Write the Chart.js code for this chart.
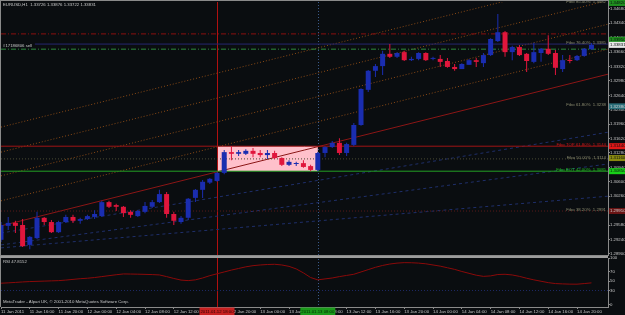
<!DOCTYPE html>
<html>
<head>
<meta charset="utf-8">
<script src="https://cdn.jsdelivr.net/npm/chart.js@4.4.0/dist/chart.umd.min.js"></script>
<style>
  html, body { margin: 0; padding: 0; background: #0a0d10; }
  #wrap { position: relative; width: 625px; height: 315px; overflow: hidden; background: #0a0d10; }
  #main { position: absolute; left: 0; top: 0; }
  #rsi { position: absolute; left: 0; top: 256px; }
</style>
</head>
<body>
<div id="wrap">
  <canvas id="main" width="625" height="256"></canvas>
  <canvas id="rsi" width="625" height="59"></canvas>
</div>
<script>
// EURUSD H1, 11 Jan 12:00 .. 14 Jan 22:00 (one entry per hourly bar)
const opens = [1.2923,1.2956,1.2963,1.2958,1.2911,1.2927,1.2975,1.2965,1.2941,1.2965,
  1.2977,1.2968,1.2972,1.2977,1.2979,1.3012,1.3005,1.3001,1.2989,1.2979,
  1.2989,1.3001,1.3012,1.3031,1.2984,1.2965,1.2975,1.3022,1.3041,1.3058,
  1.3062,1.3081,1.3130,1.3126,1.3126,1.3133,1.3128,1.3123,1.3128,1.3116,
  1.3100,1.3102,1.3104,1.3097,1.3088,1.3128,1.3142,1.3152,1.3128,1.3147,
  1.3194,1.3277,1.3322,1.3333,1.3362,1.3355,1.3366,1.3347,1.3350,1.3364,
  1.3350,1.3350,1.3345,1.3331,1.3326,1.3336,1.3347,1.3340,1.3359,1.3392,
  1.3413,1.3366,1.3378,1.3362,1.3343,1.3364,1.3374,1.3364,1.3326,1.3347,
  1.3347,1.3357,1.33726];
const highs = [1.2965,1.2977,1.2968,1.2972,1.2932,1.2989,1.2977,1.2970,1.2968,1.2982,
  1.2982,1.2975,1.2982,1.2993,1.3015,1.3015,1.3008,1.3003,1.2993,1.2993,
  1.3012,1.3017,1.3041,1.3036,1.2989,1.2979,1.3022,1.3043,1.3064,1.3069,
  1.3083,1.3135,1.3144,1.3135,1.3137,1.3140,1.3135,1.3135,1.3133,1.3118,
  1.3111,1.3107,1.3111,1.3100,1.3130,1.3144,1.3156,1.3163,1.3152,1.3199,
  1.3281,1.3324,1.3338,1.3369,1.3385,1.3366,1.3369,1.3355,1.3366,1.3366,
  1.3355,1.3359,1.3352,1.3338,1.3340,1.3350,1.3352,1.3364,1.3399,1.3456,
  1.3416,1.3381,1.3383,1.3364,1.3388,1.3376,1.3406,1.3371,1.3359,1.3359,
  1.3359,1.3376,1.33876];
const lows = [1.2918,1.2946,1.2939,1.2906,1.2901,1.2925,1.2958,1.2939,1.2939,1.2963,
  1.2963,1.2961,1.2970,1.2972,1.2977,1.2998,1.2991,1.2977,1.2975,1.2977,
  1.2986,1.2998,1.3010,1.2975,1.2958,1.2961,1.2970,1.3012,1.3022,1.3055,
  1.3060,1.3078,1.3111,1.3121,1.3123,1.3118,1.3118,1.3114,1.3114,1.3097,
  1.3097,1.3097,1.3093,1.3085,1.3085,1.3118,1.3140,1.3123,1.3121,1.3144,
  1.3192,1.3272,1.3307,1.3312,1.3352,1.3352,1.3345,1.3345,1.3347,1.3345,
  1.3347,1.3331,1.3329,1.3322,1.3326,1.3336,1.3331,1.3331,1.3357,1.3390,
  1.3355,1.3347,1.3357,1.3319,1.3340,1.3343,1.3359,1.3312,1.3319,1.3340,
  1.3345,1.3355,1.33722];
const closes = [1.2958,1.2963,1.2956,1.2908,1.2930,1.2975,1.2965,1.2941,1.2965,1.2977,
  1.2968,1.2972,1.2979,1.2984,1.3012,1.3001,1.3001,1.2986,1.2982,1.2991,
  1.3003,1.3012,1.3031,1.2984,1.2968,1.2975,1.3020,1.3041,1.3060,1.3067,
  1.3081,1.3130,1.3126,1.3130,1.3133,1.3126,1.3123,1.3128,1.3116,1.3100,
  1.3107,1.3104,1.3095,1.3088,1.3128,1.3142,1.3152,1.3128,1.3149,1.3194,
  1.3279,1.3322,1.3333,1.3362,1.3355,1.3364,1.3347,1.3350,1.3364,1.3347,
  1.3352,1.3343,1.3331,1.3326,1.3338,1.3347,1.3343,1.3359,1.3397,1.3413,
  1.3366,1.3378,1.3359,1.3345,1.3366,1.3374,1.3362,1.3329,1.3347,1.3345,
  1.3357,1.3374,1.33831];
const rsiValues = [45.8,46.5,47.5,48.5,49.3,49.8,50.3,50.8,51.3,52.5,
  54,55.5,56.5,58,60,62,64,65.7,65.5,65.2,
  64.8,64.3,63.6,60,56,52.5,51.4,53,57,62,
  66,70,74,77.5,81,83.5,85,86,86.5,85,
  82,76.5,68,58,53,55,57,60,62.5,65,
  70,75,80,84,87,89,90,89.8,89,87.5,
  85,82.5,79,75.5,71,67,63,60.5,61.5,64.5,
  65,63.5,60.5,56.5,53,50,47,45,44.3,43.8,
  43.7,45,46.5];

const priceTicks = [1.3468,1.3434,1.3400,1.3366,1.3332,1.3298,1.3264,1.3230,1.3196,
  1.3162,1.3128,1.3094,1.3060,1.3026,1.2992,1.2958,1.2924,1.2890];
const rsiTicks = [0, 30, 50, 70, 100];
const timeTickBars = [0,4,8,12,16,20,24,28,32,36,40,44,48,52,56,60,64,68,72,76,80];
const timeTickLabels = ['11 Jan 2011','11 Jan 16:00','11 Jan 20:00','12 Jan 00:00','12 Jan 04:00',
  '12 Jan 08:00','12 Jan 12:00','12 Jan 16:00','12 Jan 20:00','13 Jan 00:00','13 Jan 04:00',
  '13 Jan 08:00','13 Jan 12:00','13 Jan 16:00','13 Jan 20:00','14 Jan 00:00','14 Jan 04:00',
  '14 Jan 08:00','14 Jan 12:00','14 Jan 16:00','14 Jan 20:00'];

// horizontal objects
const hLevels = [1.3409, 1.3373, 1.3144, 1.3114, 1.3085, 1.2991];
const orderPrice = 1.3385;
const orderStartBar = 4.7;
// channel (parallel) and fan lines: price at bar 0 and at right edge
const channelStart = [1.3189, 1.3130, 1.3074, 1.3015, 1.2956];
const channelEnd   = [1.3547, 1.3488, 1.3432, 1.3373, 1.3314];
const fanStart = [1.2939, 1.2911, 1.2904];
const fanEnd   = [1.3177, 1.3102, 1.3026];
// rectangle and vertical markers
const zoneBars = [30, 44];
const zonePrices = [1.3085, 1.3144];
const markerBars = [30, 44];
const markerLabels = ['2011.01.12 18:00', '2011.01.13 08:00'];
// fibo descriptions
const fiboPrices = [1.3482, 1.3385, 1.3238, 1.3144, 1.3114, 1.3085, 1.2991];
const fiboTexts = ['Fibo 85.40%  1.3482', 'Fibo 76.40%  1.3385', 'Fibo 61.80%  1.3238',
  'Fibo TOP 61.80%  1.3144', 'Fibo 50.00%  1.3114', 'Fibo BOT 42.00%  1.3085', 'Fibo 38.20%  1.2991'];
// price tags on the axis
const tagPrices = [1.3482, 1.3395, 1.33831, 1.3238, 1.3144, 1.3116, 1.3085, 1.2991];

const X_MAX = 84.3;
const FONT_FAMILY = 'Liberation Sans';
const FONT_SIZE = 4.3;
const FONT = FONT_SIZE + 'px "' + FONT_FAMILY + '"';
const TEXT = '#c8c8c8';
const FRAME = '#8a8a8a';
const BULL = '#1a2db0';
const BEAR = '#e0163c';

const idx = opens.map((_, i) => i);
const candleColors = idx.map(i => closes[i] >= opens[i] ? BULL : BEAR);

function segment(y0, y1, x0) {
  return [{x: x0 === undefined ? 0 : x0, y: y0}, {x: X_MAX, y: y1}];
}
function lineSet(data, color, dash, order) {
  return { type: 'line', data: data, borderColor: color, borderWidth: 1, borderDash: dash,
    pointRadius: 0, fill: false, tension: 0, order: order || 10 };
}

const hStyles = [
  ['#8b1010', [5, 2, 1, 2]],
  ['#2e8b3e', [5, 2, 1, 2]],
  ['#a01414', []],
  ['#4a4a34', [1, 2]],
  ['#24a024', []],
  ['#5a1a1a', [1, 2]]
];
const orangeStyle = ['#8a4a16', [1, 2]];

const mainSets = [];
channelStart.forEach((p, i) => {
  const last = i === channelStart.length - 1;
  mainSets.push(lineSet(segment(p, channelEnd[i]), last ? '#8b1616' : orangeStyle[0], last ? [] : orangeStyle[1], 12));
});
fanStart.forEach((p, i) => {
  mainSets.push(lineSet(segment(p, fanEnd[i]), '#1f2f6a', [3, 3], 12));
});
hLevels.forEach((p, i) => {
  mainSets.push(lineSet(segment(p, p), hStyles[i][0], hStyles[i][1], 11));
});
mainSets.push(lineSet(segment(orderPrice, orderPrice, orderStartBar), '#26266e', [], 11));

mainSets.push({
  type: 'bar', data: idx.map(i => ({x: i, y: [lows[i], highs[i]]})),
  backgroundColor: candleColors, grouped: false, maxBarThickness: 1,
  inflateAmount: 0, borderWidth: 0, minBarLength: 1, order: 2
});
mainSets.push({
  type: 'bar', data: idx.map(i => ({x: i, y: [opens[i], closes[i]]})),
  backgroundColor: candleColors, grouped: false, maxBarThickness: 5,
  inflateAmount: 0, borderWidth: 0, minBarLength: 1, order: 1
});

function drawMarkers(ctx, x, top, bottom) {
  ctx.save();
  ctx.lineWidth = 1;
  let px = Math.round(x.getPixelForValue(markerBars[0])) + 0.5;
  ctx.strokeStyle = '#b01010';
  ctx.beginPath(); ctx.moveTo(px, top); ctx.lineTo(px, bottom); ctx.stroke();
  px = Math.round(x.getPixelForValue(markerBars[1])) + 0.5;
  ctx.strokeStyle = '#3a5a8a';
  ctx.setLineDash([1, 2]);
  ctx.beginPath(); ctx.moveTo(px, top); ctx.lineTo(px, bottom); ctx.stroke();
  ctx.restore();
}

const mainOverlay = {
  id: 'mainOverlay',
  beforeDatasetsDraw(chart) {
    const {ctx, chartArea: a, scales: {x, y}} = chart;
    const x0 = x.getPixelForValue(zoneBars[0]);
    const x1 = x.getPixelForValue(zoneBars[1]);
    const yTop = y.getPixelForValue(zonePrices[1]);
    const yBot = y.getPixelForValue(zonePrices[0]);
    ctx.save();
    ctx.fillStyle = '#ffc0cb';
    ctx.fillRect(x0, yTop, x1 - x0, yBot - yTop);
    ctx.restore();
    drawMarkers(ctx, x, a.top, a.bottom);
  },
  afterDatasetsDraw(chart) {
    const {ctx, scales: {y}} = chart;
    ctx.save();
    ctx.font = FONT;
    ctx.textBaseline = 'middle';
    ctx.textAlign = 'right';
    const fiboColors = ['#8c8c70', '#8c8c70', '#8c8c70', '#d01818', '#8c8c70', '#22c022', '#8c8c70'];
    fiboPrices.forEach((p, i) => {
      ctx.fillStyle = fiboColors[i];
      ctx.fillText(fiboTexts[i], 606, y.getPixelForValue(p) - 1.5);
    });
    ctx.textAlign = 'left';
    ctx.fillStyle = TEXT;
    ctx.fillText('EURUSD,H1  1.33726 1.33876 1.33722 1.33831', 3, 5);
    ctx.fillText('#17186806 sell', 3, y.getPixelForValue(orderPrice) + 1.5);
    ctx.restore();
  },
  afterDraw(chart) {
    const {ctx, chartArea: a, scales: {y}} = chart;
    ctx.save();
    const fills = ['#1f8f1f', '#1f8f1f', '#e8e8e8', '#2a6f7a', '#e01818', '#8a8a10', '#18d018', '#6a1414'];
    const inks  = ['#0a0d10', '#0a0d10', '#0a0d10', '#d0d0d0', '#0a0d10', '#0a0d10', '#0a0d10', '#d0d0d0'];
    ctx.font = FONT;
    ctx.textBaseline = 'middle';
    ctx.textAlign = 'left';
    tagPrices.forEach((p, i) => {
      const py = y.getPixelForValue(p);
      ctx.fillStyle = fills[i];
      ctx.fillRect(a.right + 1, py - 3, 17, 6);
      ctx.fillStyle = inks[i];
      ctx.fillText(p.toFixed(5), a.right + 2, py);
    });
    ctx.strokeStyle = FRAME;
    ctx.lineWidth = 1;
    ctx.strokeRect(0.5, 0.5, a.right, a.bottom);
    ctx.restore();
  }
};

const rsiOverlay = {
  id: 'rsiOverlay',
  beforeDatasetsDraw(chart) {
    const {ctx, chartArea: a, scales: {x}} = chart;
    drawMarkers(ctx, x, 0, a.bottom);
  },
  afterDraw(chart) {
    const {ctx, chartArea: a, scales: {x}} = chart;
    ctx.save();
    ctx.fillStyle = '#9c9c9c';
    ctx.fillRect(0, 0, a.right, 2);
    ctx.strokeStyle = FRAME;
    ctx.lineWidth = 1;
    ctx.beginPath(); ctx.moveTo(0.5, 2); ctx.lineTo(0.5, a.bottom); ctx.stroke();
    ctx.font = FONT;
    ctx.textBaseline = 'middle';
    ctx.textAlign = 'left';
    ctx.fillStyle = TEXT;
    ctx.fillText('RSI 47.8152', 3, 6);
    ctx.fillText('MetaTrader - Alpari UK, \u00a9 2001-2010 MetaQuotes Software Corp.', 3, 46);
    const boxFills = ['#c82020', '#1a9a1a'];
    const boxInks = ['#2a0000', '#002a00'];
    ctx.textAlign = 'center';
    markerBars.forEach((b, i) => {
      const cx = x.getPixelForValue(b);
      ctx.fillStyle = boxFills[i];
      ctx.fillRect(cx - 17.5, a.bottom + 0.5, 35, 8);
      ctx.fillStyle = boxInks[i];
      ctx.fillText(markerLabels[i], cx, a.bottom + 4.5);
    });
    ctx.restore();
  }
};

const tickFont = {family: FONT_FAMILY, size: FONT_SIZE, lineHeight: 1};

new Chart(document.getElementById('main'), {
  type: 'bar',
  data: { datasets: mainSets },
  options: {
    responsive: false,
    animation: false,
    events: [],
    layout: { padding: {left: 1, top: 2, right: 0, bottom: 1} },
    plugins: { legend: {display: false}, tooltip: {enabled: false} },
    scales: {
      x: { type: 'linear', display: false, min: 0, max: X_MAX, offset: false, grid: {offset: false} },
      y: {
        type: 'linear', position: 'right', min: 1.28872, max: 1.34843, beginAtZero: false,
        afterBuildTicks: s => { s.ticks = priceTicks.map(v => ({value: v})); },
        afterFit: s => { s.width = 17; s.paddingTop = 0; s.paddingBottom = 0; },
        ticks: { color: TEXT, font: tickFont, padding: 0, autoSkip: false, callback: v => v.toFixed(5) },
        grid: { drawOnChartArea: false, tickLength: 2, color: FRAME },
        border: { color: FRAME }
      }
    }
  },
  plugins: [mainOverlay]
});

new Chart(document.getElementById('rsi'), {
  type: 'line',
  data: {
    datasets: [
      lineSet(segment(30, 30), '#1e2a66', [1, 2], 5),
      { data: idx.map(i => ({x: i, y: rsiValues[i]})), borderColor: '#8b0a0a', borderWidth: 1,
        pointRadius: 0, fill: false, tension: 0, order: 1 }
    ]
  },
  options: {
    responsive: false,
    animation: false,
    events: [],
    layout: { padding: {left: 1, top: 2, right: 0, bottom: 0} },
    plugins: { legend: {display: false}, tooltip: {enabled: false} },
    scales: {
      x: {
        type: 'linear', position: 'bottom', min: 0, max: X_MAX, offset: false,
        afterBuildTicks: s => { s.ticks = timeTickBars.map(v => ({value: v})); },
        afterFit: s => { s.height = 8; s.paddingLeft = 0; s.paddingRight = 0; },
        ticks: { color: TEXT, font: tickFont, align: 'start', maxRotation: 0, autoSkip: false,
                 padding: 1, callback: (v, i) => timeTickLabels[i] },
        grid: { drawOnChartArea: false, tickLength: 2, color: FRAME },
        border: { color: FRAME }
      },
      y: {
        type: 'linear', position: 'right', min: -5.4, max: 100,
        afterBuildTicks: s => { s.ticks = rsiTicks.map(v => ({value: v})); },
        afterFit: s => { s.width = 17; s.paddingTop = 0; s.paddingBottom = 0; },
        ticks: { color: TEXT, font: tickFont, padding: 0, autoSkip: false, callback: v => String(v) },
        grid: { drawOnChartArea: false, tickLength: 2, color: FRAME },
        border: { color: FRAME }
      }
    }
  },
  plugins: [rsiOverlay]
});
</script>
</body>
</html>
